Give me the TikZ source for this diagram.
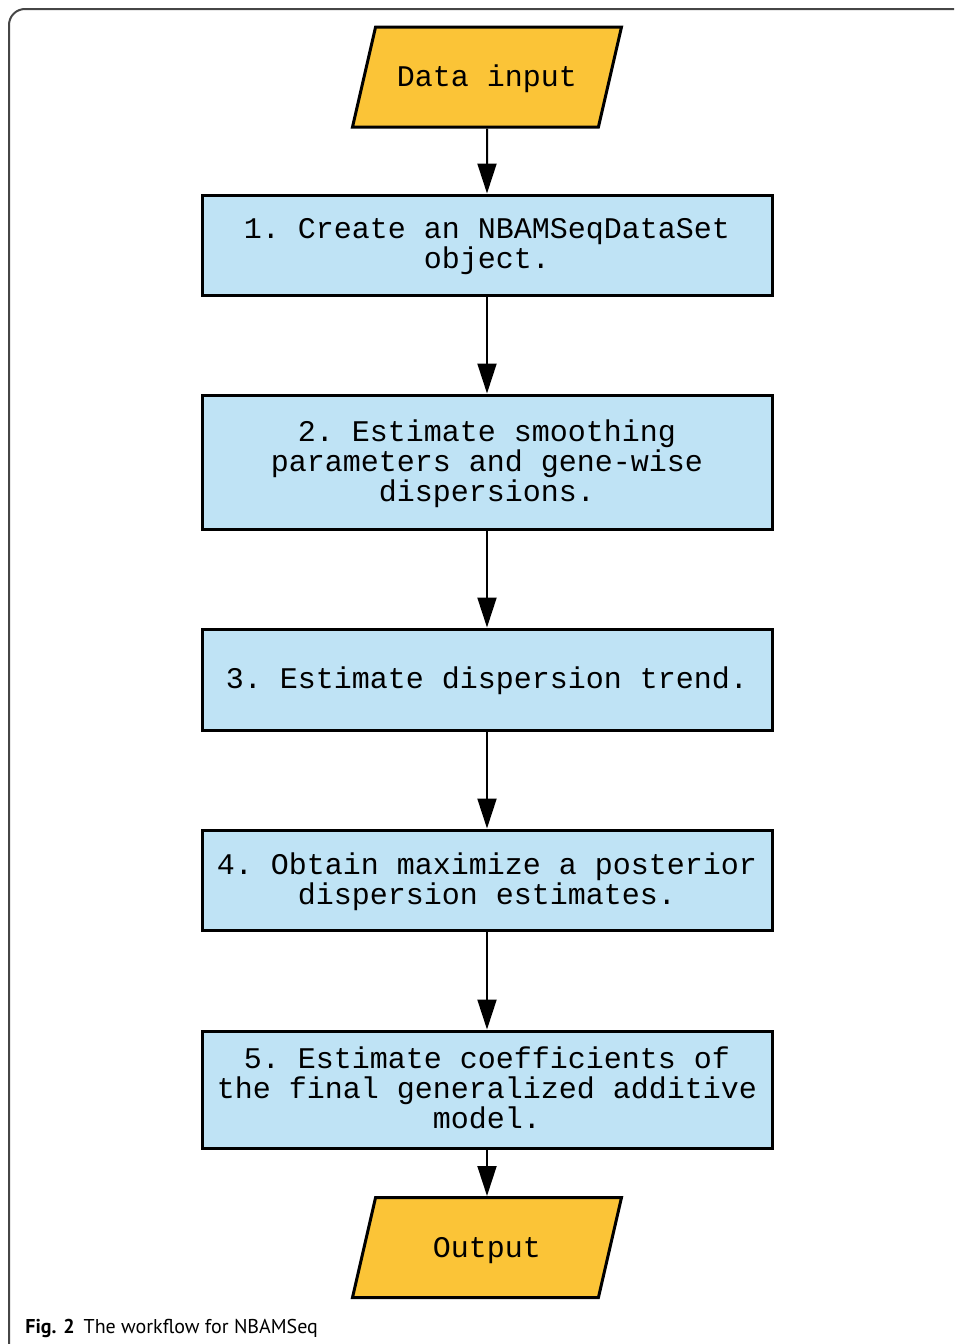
\documentclass[tikz,border=0pt]{standalone}
\usepackage{fontspec}
\setmainfont{PT Sans}
\setmonofont{Liberation Mono}
\usepackage{tikz}
\usetikzlibrary{shapes.geometric, arrows.meta, positioning}
\definecolor{ioyellow}{RGB}{251,196,55}
\definecolor{stepblue}{RGB}{191,227,245}
\definecolor{framegray}{RGB}{70,70,70}
\tikzstyle{io} = [trapezium, trapezium left angle=77, trapezium right angle=103, trapezium stretches body, minimum width=134.5pt, text height=12.8pt, text depth=3pt, inner ysep=17.1pt, text centered, draw=black, line width=1.5pt, fill=ioyellow, font=\ttfamily\fontsize{15}{15}\selectfont]
\tikzstyle{stepbox} = [rectangle, minimum width=285pt, minimum height=50pt, text depth=1.5pt, text centered, draw=black, line width=1.5pt, fill=stepblue, font=\ttfamily\fontsize{15}{15}\selectfont]
\tikzstyle{arrow} = [line width=1pt,-{Triangle[length=15pt,width=9.5pt]}]

\begin{document}
\begin{tikzpicture}[x=0.5pt, y=-0.5pt, align=center]
\useasboundingbox (0,0) rectangle (954,1344);
\draw[framegray, line width=1pt, rounded corners=8pt] (954,9) -- (9,9) -- (9,1344);

\node (in) [io] at (487,77) {Data input};
\node (s1) [stepbox] at (487,245) {1. Create an NBAMSeqDataSet\\object.};
\node (s2) [stepbox, minimum height=67pt] at (487,462) {2. Estimate smoothing\\parameters and gene-wise\\dispersions.};
\node (s3) [stepbox, minimum height=50.5pt] at (487,679.5) {3. Estimate dispersion trend.};
\node (s4) [stepbox] at (487,880) {4. Obtain maximize a posterior\\dispersion estimates.};
\node (s5) [stepbox, minimum height=58.5pt] at (487,1089.5) {5. Estimate coefficients of\\the final generalized additive\\model.};
\node (out) [io] at (487,1247.5) {Output};

\node (cap) [anchor=base west, font=\fontsize{10}{12}\selectfont, inner sep=0pt] at (25,1333) {\textbf{Fig. 2}\hspace{0.45em}The workflow for NBAMSeq};

\draw [arrow] (in) -- (s1);
\draw [arrow] (s1) -- (s2);
\draw [arrow] (s2) -- (s3);
\draw [arrow] (s3) -- (s4);
\draw [arrow] (s4) -- (s5);
\draw [arrow] (s5) -- (out);
\end{tikzpicture}
\end{document}
